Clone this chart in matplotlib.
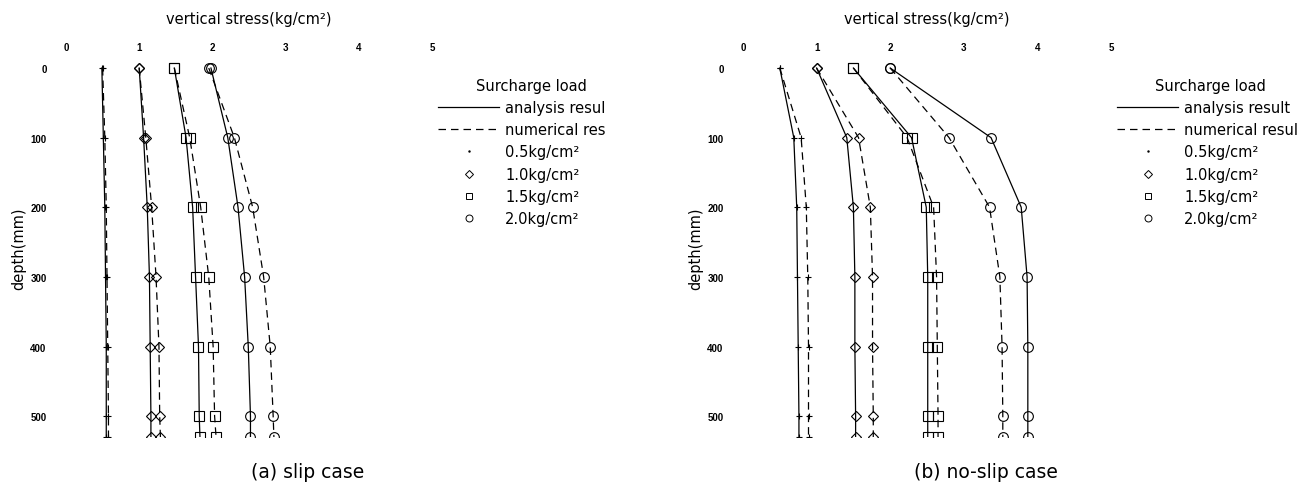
import matplotlib
matplotlib.use('Agg')
import matplotlib.pyplot as plt
from matplotlib.lines import Line2D
from matplotlib.transforms import Bbox, TransformedBbox

# depth of the reading points (mm)
depth = [0, 100, 200, 300, 400, 500, 530]
loads = ['0.5', '1.0', '1.5', '2.0']
x_ticks = [0, 1, 2, 3, 4, 5]
y_ticks = [0, 100, 200, 300, 400, 500]

# (a) slip case - vertical stress (kg/cm2)
slip_ana_05 = [0.49, 0.51, 0.53, 0.54, 0.55, 0.55, 0.55]
slip_ana_10 = [1.00, 1.06, 1.11, 1.14, 1.15, 1.16, 1.16]
slip_ana_15 = [1.48, 1.64, 1.73, 1.77, 1.81, 1.82, 1.83]
slip_ana_20 = [1.98, 2.21, 2.35, 2.44, 2.49, 2.52, 2.52]
slip_num_05 = [0.50, 0.53, 0.55, 0.56, 0.57, 0.58, 0.58]
slip_num_10 = [1.00, 1.09, 1.17, 1.23, 1.27, 1.28, 1.29]
slip_num_15 = [1.48, 1.69, 1.84, 1.95, 2.01, 2.03, 2.05]
slip_num_20 = [1.95, 2.30, 2.55, 2.70, 2.79, 2.83, 2.84]

# (b) no-slip case
noslip_ana_05 = [0.50, 0.69, 0.73, 0.74, 0.75, 0.76, 0.76]
noslip_ana_10 = [1.00, 1.41, 1.50, 1.52, 1.52, 1.53, 1.53]
noslip_ana_15 = [1.50, 2.29, 2.49, 2.51, 2.51, 2.51, 2.51]
noslip_ana_20 = [2.00, 3.37, 3.78, 3.86, 3.87, 3.87, 3.87]
noslip_num_05 = [0.50, 0.79, 0.86, 0.88, 0.89, 0.89, 0.89]
noslip_num_10 = [1.00, 1.57, 1.73, 1.76, 1.76, 1.77, 1.77]
noslip_num_15 = [1.50, 2.23, 2.59, 2.63, 2.64, 2.65, 2.65]
noslip_num_20 = [2.00, 2.80, 3.35, 3.49, 3.52, 3.53, 3.53]

markers = ['+', 'D', 's', 'o']
msizes = [4, 5, 7, 7]
dash = (0, (6, 4))

plt.rcParams['font.family'] = ['DejaVu Sans']

fig = plt.figure(figsize=(12.98, 4.85), dpi=100)
ax1 = fig.add_axes([0.05085, 0.0969, 0.28197, 0.7823])
ax2 = fig.add_axes([0.57242, 0.0969, 0.28351, 0.7823])


def draw_panel(ax, ana, num):
    for a, n, m, ms in zip(ana, num, markers, msizes):
        ax.plot(a, depth, color='black', lw=0.9, marker=m, ms=ms,
                mfc='none', mec='black', mew=0.8)
        ax.plot(n, depth, color='black', lw=0.9, ls=dash, marker=m, ms=ms,
                mfc='none', mec='black', mew=0.8)
    ax.set_xlim(0, 5)
    ax.set_ylim(530, -15)
    for s in ax.spines.values():
        s.set_visible(False)
    ax.xaxis.tick_top()
    ax.set_xticks(x_ticks)
    ax.set_yticks(y_ticks)
    ax.tick_params(axis='x', length=0, pad=3.8)
    ax.tick_params(axis='y', length=0, pad=14)
    for lab in ax.get_xticklabels() + ax.get_yticklabels():
        lab.set_family('Liberation Sans')
        lab.set_fontweight('bold')
        lab.set_fontsize(7)
    ax.xaxis.set_label_position('top')
    ax.set_xlabel('vertical stress(kg/cm²)', fontsize=10.5, labelpad=14)
    ax.set_ylabel('depth(mm)', fontsize=10.5, labelpad=3)

    handles = [Line2D([], [], color='black', lw=0.9),
               Line2D([], [], color='black', lw=0.9, ls=dash),
               Line2D([], [], ls='none', marker='.', ms=1.5, color='black'),
               Line2D([], [], ls='none', marker='D', ms=4, mfc='none', mec='black', mew=0.7),
               Line2D([], [], ls='none', marker='s', ms=5, mfc='none', mec='black', mew=0.7),
               Line2D([], [], ls='none', marker='o', ms=5, mfc='none', mec='black', mew=0.7)]
    labels = ['analysis result', 'numerical result'] + [l + 'kg/cm²' for l in loads]
    return handles, labels


h, l = draw_panel(ax1, [slip_ana_05, slip_ana_10, slip_ana_15, slip_ana_20],
                  [slip_num_05, slip_num_10, slip_num_15, slip_num_20])
draw_panel(ax2, [noslip_ana_05, noslip_ana_10, noslip_ana_15, noslip_ana_20],
           [noslip_num_05, noslip_num_10, noslip_num_15, noslip_num_20])

for x0, clip_x in [(438 / 1298, 605 / 1298), (1117 / 1298, 1.0)]:
    leg = fig.legend(h, l, title='Surcharge load', loc='upper left',
                     bbox_to_anchor=(x0, 0.838), frameon=False, fontsize=10.5,
                     title_fontsize=10.5, handlelength=4.2, handletextpad=0.4,
                     borderpad=0, borderaxespad=0, labelspacing=0.5)
    clip = TransformedBbox(Bbox.from_extents(0, 0, clip_x, 1), fig.transFigure)
    for t in leg.get_texts():
        t.set_clip_on(True)
        t.set_clip_box(clip)

fig.text(308 / 1298, 0.025, '(a) slip case', ha='center', va='center', fontsize=13.5)
fig.text(986 / 1298, 0.025, '(b) no-slip case', ha='center', va='center', fontsize=13.5)

fig.savefig('out.png', dpi=100)
